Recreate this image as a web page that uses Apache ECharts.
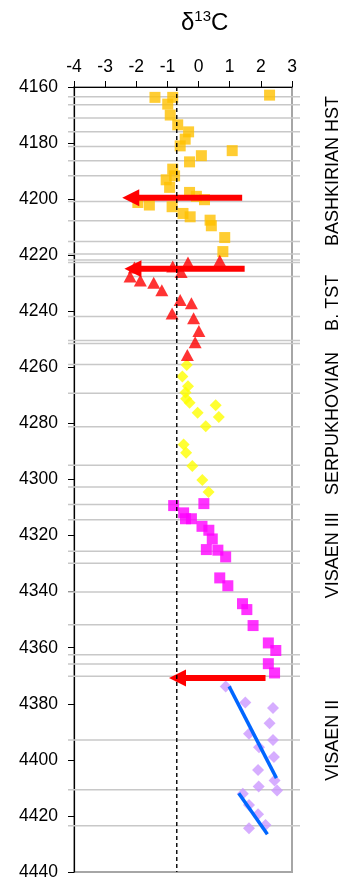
<!DOCTYPE html>
<html>
<head>
<meta charset="utf-8">
<script src="https://cdn.jsdelivr.net/npm/echarts@6/dist/echarts.min.js"></script>
<style>
  html, body { margin: 0; padding: 0; background: #fff; }
  #chart { width: 342px; height: 882px; }
</style>
</head>
<body>
<div id="chart"></div>
<script>
// δ13C (‰) against depth (m) for each stratigraphic unit
const bashkirianD13C = [2.28, -1.40, -0.83, -0.99, -0.91, -0.67, -0.32, -0.43, -0.59, 1.08, 0.09, -0.29, -0.83, -0.77, -1.04, -0.93, -0.29, -0.07, 0.19, -1.95, -1.58, -0.85, -0.50, -0.27, 0.37, 0.41, 0.84, 0.78];
const bashkirianDepth = [4162.9, 4163.7, 4163.7, 4166.1, 4170.0, 4173.5, 4176.0, 4178.6, 4181.0, 4182.7, 4184.5, 4186.7, 4189.3, 4191.7, 4193.1, 4195.8, 4197.6, 4199.0, 4200.2, 4201.2, 4202.1, 4202.7, 4205.1, 4206.3, 4207.5, 4209.5, 4213.7, 4218.7];

const tstD13C = [0.68, -0.34, -0.83, -0.56, -2.06, -2.20, -1.87, -1.44, -1.18, -0.59, -0.23, -0.85, -0.16, 0.01, -0.11, -0.36];
const tstDepth = [4222.0, 4222.6, 4224.0, 4226.0, 4224.4, 4227.6, 4229.0, 4229.8, 4232.5, 4236.0, 4237.1, 4240.8, 4242.5, 4247.0, 4251.0, 4255.6];

const serpukhovianD13C = [-0.38, -0.52, -0.34, -0.42, -0.40, -0.29, 0.55, -0.03, 0.65, 0.23, -0.48, -0.40, -0.20, 0.12, 0.32];
const serpukhovianDepth = [4259.2, 4263.3, 4266.7, 4269.0, 4271.2, 4272.6, 4273.5, 4276.2, 4277.7, 4281.0, 4287.5, 4290.5, 4295.2, 4300.2, 4304.5];

const visean3D13C = [-0.80, 0.17, -0.48, -0.42, -0.23, 0.11, 0.33, 0.44, 0.25, 0.62, 0.87, 0.68, 0.94, 1.41, 1.55, 1.75, 2.24, 2.48, 2.24, 2.44];
const visean3Depth = [4309.3, 4308.6, 4311.9, 4314.0, 4314.0, 4316.7, 4318.1, 4321.2, 4325.0, 4325.2, 4327.6, 4335.1, 4337.9, 4344.3, 4346.4, 4352.1, 4358.3, 4361.0, 4365.7, 4369.0];

const visean2D13C = [0.87, 1.50, 2.39, 2.28, 1.62, 2.39, 1.94, 2.42, 1.91, 2.44, 1.93, 2.52, 1.42, 1.62, 1.91, 1.62, 2.15];
const visean2Depth = [4373.8, 4379.5, 4381.5, 4386.9, 4390.7, 4392.9, 4395.5, 4399.0, 4403.6, 4407.4, 4409.5, 4410.9, 4412.1, 4416.1, 4419.4, 4424.4, 4423.2];

// trend segments in Visean II: [start, end] as [δ13C, depth]
const trendA = [[0.98, 4373.8], [2.50, 4406.5]];
const trendB = [[1.29, 4411.9], [2.21, 4426.5]];

// negative excursion arrows
const arrowDepth = [4199.5, 4224.8, 4370.8];
const arrowFrom = [1.40, 1.48, 2.15];
const arrowTo = [-2.45, -2.38, -0.95];

// reference δ13C value (dashed line)
const refD13C = -0.7;

// bed boundaries (depth, m)
const boundaryDepth = [4163.5, 4166.3, 4171.1, 4176.0, 4181.2, 4186.3, 4191.7, 4200.8, 4207.7, 4215.1, 4219.6, 4221.7, 4222.6, 4227.6, 4241.9, 4250.4, 4251.5, 4259.0, 4269.2, 4281.2, 4294.9, 4302.7, 4308.9, 4314.4, 4325.6, 4329.9, 4340.1, 4351.8, 4362.5, 4365.8, 4370.2, 4392.9, 4410.7, 4423.5];

// unit names and the depth at which each name is centred
const unitNames = ['BASHKIRIAN HST', 'B. TST', 'SERPUKHOVIAN', 'VISAEN III', 'VISAEN II'];
const unitMidDepth = [4190, 4237, 4280, 4327, 4393];

// axis ranges
const X_MIN = -4, X_MAX = 3, X_STEP = 1;
const D_MIN = 4160, D_MAX = 4440, D_STEP = 20;

const FONT = 'Liberation Sans, Arial, sans-serif';
const zip = (xs, ys) => xs.map((x, i) => [x, ys[i]]);

const chart = echarts.init(document.getElementById('chart'), null, { renderer: 'canvas' });

const option = {
  animation: false,
  backgroundColor: '#fff',
  title: {
    text: '{d|δ}{s|13}{c|C}',
    left: 176,
    top: 2,
    textStyle: {
      fontWeight: 'normal',
      rich: {
        d: { fontSize: 24, fontFamily: FONT, fontWeight: 'normal', color: '#000', verticalAlign: 'bottom', lineHeight: 28 },
        s: { fontSize: 15, fontFamily: FONT, fontWeight: 'normal', color: '#000', verticalAlign: 'top', lineHeight: 28, padding: [2, 0, 0, 0] },
        c: { fontSize: 24, fontFamily: FONT, fontWeight: 'normal', color: '#000', verticalAlign: 'bottom', lineHeight: 28 }
      }
    }
  },
  grid: {
    left: 74, right: 50, top: 87, bottom: 10,
    show: true, borderColor: '#a6a6a6', borderWidth: 2, backgroundColor: 'transparent'
  },
  xAxis: {
    type: 'value', position: 'top', min: X_MIN, max: X_MAX, interval: X_STEP,
    axisLine: { show: true, onZero: false, lineStyle: { color: '#000', width: 1 } },
    axisTick: { show: true, length: 6, lineStyle: { color: '#000' } },
    axisLabel: { fontSize: 17.5, fontFamily: FONT, color: '#000', margin: 11 },
    splitLine: { show: false }
  },
  yAxis: {
    type: 'value', inverse: true, min: D_MIN, max: D_MAX, interval: D_STEP,
    axisLine: { show: true, onZero: false, lineStyle: { color: '#000', width: 1.2 } },
    axisTick: { show: true, length: 6, lineStyle: { color: '#000' } },
    axisLabel: { fontSize: 17.5, fontFamily: FONT, color: '#000', margin: 16, formatter: v => String(v) },
    splitLine: { show: false }
  },
  series: [
    {
      // bed boundaries, extended a little past the frame
      type: 'custom', clip: false, z: 1, silent: true,
      data: boundaryDepth.map(d => [X_MIN, d]),
      renderItem: function (params, api) {
        const y = api.coord([X_MIN, api.value(1)])[1];
        const cs = params.coordSys;
        return {
          type: 'line',
          shape: { x1: cs.x - 6, y1: y, x2: cs.x + cs.width + 8, y2: y },
          style: { stroke: '#c8c8c8', lineWidth: 1.5 }
        };
      }
    },
    {
      name: 'Bashkirian', type: 'scatter', symbol: 'rect', symbolSize: 11, z: 3,
      itemStyle: { color: '#ffc000' },
      data: zip(bashkirianD13C, bashkirianDepth)
    },
    {
      // excursion arrows
      type: 'custom', z: 4, silent: true,
      data: arrowDepth.map((d, i) => [arrowFrom[i], d, arrowTo[i]]),
      renderItem: function (params, api) {
        const p0 = api.coord([api.value(0), api.value(1)]);
        const p1 = api.coord([api.value(2), api.value(1)]);
        const headLen = 17, halfW = 8.5;
        return {
          type: 'group',
          children: [
            {
              type: 'line',
              shape: { x1: p0[0], y1: p0[1], x2: p1[0] + headLen - 1, y2: p1[1] },
              style: { stroke: '#ff0000', lineWidth: 6 }
            },
            {
              type: 'polygon',
              shape: { points: [[p1[0], p1[1]], [p1[0] + headLen, p1[1] - halfW], [p1[0] + headLen, p1[1] + halfW]] },
              style: { fill: '#ff0000' }
            }
          ]
        };
      }
    },
    {
      name: 'B. TST', type: 'scatter', symbol: 'triangle', symbolSize: [13, 12], z: 5,
      itemStyle: { color: '#ff0000' },
      data: zip(tstD13C, tstDepth)
    },
    {
      name: 'Serpukhovian', type: 'scatter', symbol: 'diamond', symbolSize: 12, z: 3,
      itemStyle: { color: '#ffff00' },
      data: zip(serpukhovianD13C, serpukhovianDepth)
    },
    {
      name: 'Visean III', type: 'scatter', symbol: 'rect', symbolSize: 11, z: 3,
      itemStyle: { color: '#ff00ff' },
      data: zip(visean3D13C, visean3Depth)
    },
    {
      name: 'Visean II', type: 'scatter', symbol: 'diamond', symbolSize: 12, z: 3,
      itemStyle: { color: '#cc99ff' },
      data: zip(visean2D13C, visean2Depth)
    },
    {
      type: 'line', z: 6, symbol: 'none', silent: true,
      lineStyle: { color: '#0066ff', width: 3.5 },
      data: trendA
    },
    {
      type: 'line', z: 6, symbol: 'none', silent: true,
      lineStyle: { color: '#0066ff', width: 3.5 },
      data: trendB
    },
    {
      // reference value
      type: 'line', z: 7, symbol: 'none', silent: true,
      lineStyle: { color: '#000', width: 1.4, type: [4, 3] },
      data: [[refD13C, D_MIN], [refD13C, D_MAX]]
    },
    {
      // unit names on the right of the frame
      type: 'custom', clip: false, z: 8, silent: true,
      data: unitMidDepth.map((d, i) => [X_MAX, d, i]),
      renderItem: function (params, api) {
        const p = api.coord([X_MAX, api.value(1)]);
        return {
          type: 'text',
          x: p[0] + 41, y: p[1],
          rotation: Math.PI / 2,
          style: {
            text: unitNames[api.value(2)],
            fontSize: 18, fontFamily: FONT, fill: '#000',
            align: 'center', verticalAlign: 'middle'
          }
        };
      }
    }
  ]
};

chart.setOption(option);
</script>
</body>
</html>
